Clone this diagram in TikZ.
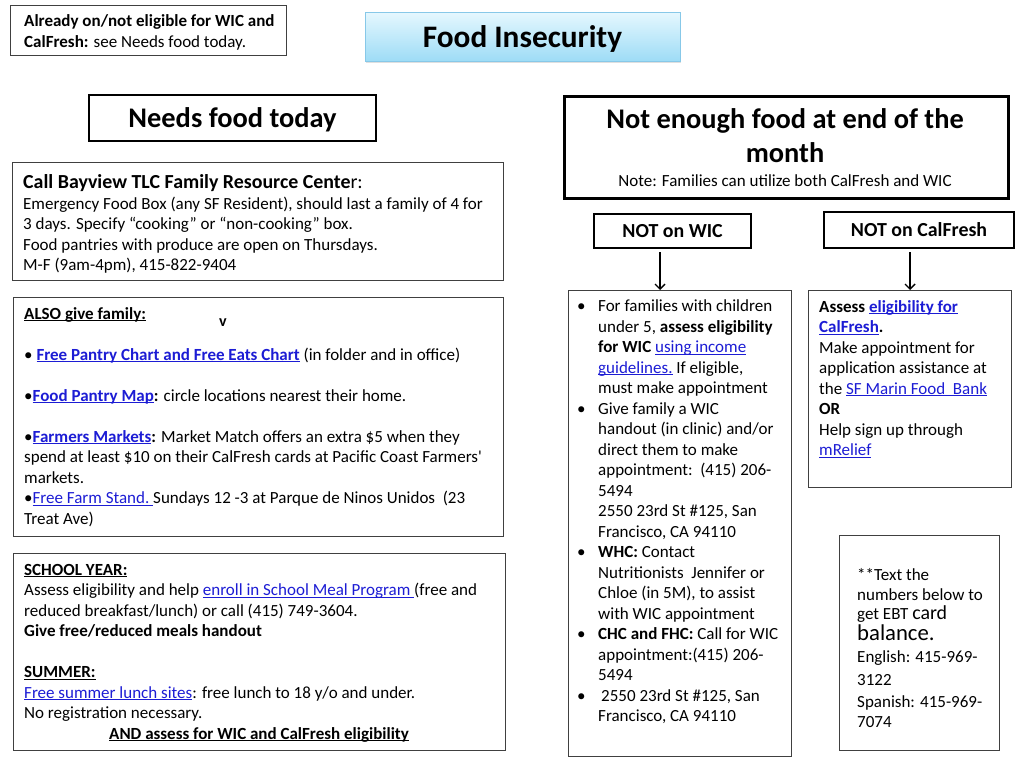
\documentclass[tikz,border=0pt]{standalone}
\usepackage{fontspec}
\setmainfont{Carlito}
\usetikzlibrary{positioning,calc,arrows.meta,shadows}
\definecolor{linkblue}{RGB}{28,28,212}
\definecolor{skytop}{RGB}{228,247,254}
\definecolor{skybot}{RGB}{158,220,246}
\definecolor{skyedge}{RGB}{135,200,232}
\newcommand{\uln}[1]{\leavevmode\setbox0=\hbox{#1}\rlap{\rule[-1.9pt]{\wd0}{0.9pt}}\box0}
\newcommand{\lnk}[1]{{\color{linkblue}\uln{#1}}}
\newcommand{\bul}{\llap{\makebox[21pt][l]{•}}}
\newcommand{\bodyfont}{\fontsize{17}{20.5}\selectfont}
\tikzstyle{thinbox} = [draw=black!75, line width=1.2pt, anchor=north west, inner sep=0pt]
\tikzstyle{thickbox} = [draw=black, line width=2.6pt, inner sep=0pt]
% multi-line text: placed at the baseline of its last line
\tikzstyle{txt} = [anchor=base west, inner sep=0pt, align=left, font=\bodyfont]
\tikzstyle{to} = [-{Straight Barb[length=5pt,width=10pt]}, line width=1.4pt, shorten <=3pt]

\begin{document}
\begin{tikzpicture}[x=1pt, y=-1pt]
	\useasboundingbox (0,0) rectangle (1024,768);
	% top row
	\node (already) [thinbox, minimum width=276, minimum height=50] at (10,5) {};
	\node (alreadytxt) [txt, font=\fontsize{17}{21}\selectfont] at (24,47.5) {\textbf{Already on/not eligible for WIC and}\\\textbf{CalFresh:} see Needs food today.};
	\node (title) [draw=skyedge, line width=1pt, top color=skytop, bottom color=skybot, drop shadow={opacity=0.25, shadow xshift=1pt, shadow yshift=-2pt}, minimum width=315, minimum height=48, text depth=0pt, font=\fontsize{31.3}{33}\selectfont\bfseries] at (522.5,37) {Food Insecurity};
	% needs food today
	\node (needs) [thickbox, minimum width=287, minimum height=46, text depth=0pt, font=\fontsize{28.4}{30}\selectfont\bfseries] at (232.5,118) {Needs food today};
	\node (call) [thinbox, minimum width=491, minimum height=118] at (12,162) {};
	\node (calltxt) [txt] at (23,270.5) {{\fontsize{19.9}{20}\selectfont\textbf{Call Bayview TLC Family Resource Cente}r:}\\[0.5pt]
		Emergency Food Box (any SF Resident), should last a family of 4 for\\
		3 days. Specify “cooking” or “non-cooking” box.\\
		Food pantries with produce are open on Thursdays.\\
		M-F (9am-4pm), 415-822-9404};
	\node (alsobox) [thinbox, minimum width=490, minimum height=239] at (13,297) {};
	\node (alsotxt) [txt] at (24,524) {\textbf{\uln{ALSO give family:}}\\
		\\
		• \textbf{\lnk{Free Pantry Chart and Free Eats Chart}} (in folder and in office)\\
		\\
		•\textbf{\lnk{Food Pantry Map}:} circle locations nearest their home.\\
		\\
		•\textbf{\lnk{Farmers Markets}:} Market Match offers an extra \$5 when they\\
		spend at least \$10 on their CalFresh cards at Pacific Coast Farmers\textquotesingle\\
		markets.\\
		•\lnk{Free Farm Stand.\ }Sundays 12 -3 at Parque de Ninos Unidos\ \ (23\\
		Treat Ave)};
	\node (vmark) [font=\fontsize{16}{16}\selectfont\bfseries] at (223,323) {v};
	\node (schoolbox) [thinbox, minimum width=492, minimum height=197] at (13,553) {};
	\node (schooltxt) [txt] at (24,739) {\textbf{\uln{SCHOOL YEAR:}}\\
		Assess eligibility and help \lnk{enroll in School Meal Program\ }(free and\\
		reduced breakfast/lunch) or call (415) 749-3604.\\
		\textbf{Give free/reduced meals handout}\\
		\\
		\textbf{\uln{SUMMER:}}\\
		\lnk{Free summer lunch sites}: free lunch to 18 y/o and under.\\
		No registration necessary.\\
		\hspace{85pt}\textbf{\uln{AND assess for WIC and CalFresh eligibility}}};
	% end of month
	\node (monthbox) [thickbox, anchor=north west, minimum width=444, minimum height=102] at (563,95) {};
	\node (monthtxt) [font=\fontsize{28.4}{34}\selectfont\bfseries, align=center, anchor=base] at (785,162) {Not enough food at end of the\\month};
	\node (note) [font=\fontsize{17}{18}\selectfont, anchor=base] at (785,186) {Note: Families can utilize both CalFresh and WIC};
	\node (notwic) [thickbox, minimum width=157, minimum height=34, font=\fontsize{19.9}{20}\selectfont\bfseries] at (672.5,231) {NOT on WIC};
	\node (notcal) [thickbox, minimum width=190, minimum height=36, font=\fontsize{19.9}{20}\selectfont\bfseries] at (919,230) {NOT on CalFresh};
	\node (wicbox) [thinbox, minimum width=223, minimum height=466] at (568,290) {};
	\node (wictxt) [txt] at (598,721.5) {\bul For families with children\\
		under 5, \textbf{assess eligibility}\\
		\textbf{for WIC} \lnk{using income}\\
		\lnk{guidelines.} If eligible,\\
		must make appointment\\
		\bul Give family a WIC\\
		handout (in clinic) and/or\\
		direct them to make\\
		appointment:\ \ (415) 206-\\
		5494\\
		2550 23rd St \#125, San\\
		Francisco, CA 94110\\
		\bul\textbf{WHC:} Contact\\
		Nutritionists\ \ Jennifer or\\
		Chloe (in 5M), to assist\\
		with WIC appointment\\
		\bul\textbf{CHC and FHC:} Call for WIC\\
		appointment:(415) 206-\\
		5494\\
		\bul\hspace{3pt}2550 23rd St \#125, San\\
		Francisco, CA 94110};
	\node (calbox) [thinbox, minimum width=203, minimum height=197] at (808,290) {};
	\node (caltxt) [txt] at (819,455.5) {\textbf{Assess \lnk{eligibility for}}\\
		\textbf{\lnk{CalFresh}.}\\
		Make appointment for\\
		application assistance at\\
		the \lnk{SF Marin Food\ \ Bank}\\
		\textbf{OR}\\
		Help sign up through\\
		\lnk{mRelief}};
	\node (ebtbox) [thinbox, minimum width=160, minimum height=215] at (839,535) {};
	\node (ebttxt) [txt, font=\fontsize{17}{19.5}\selectfont] at (857,727) {**Text the\\
		numbers below to\\
		get EBT {\fontsize{19.9}{19.5}\selectfont card}\\[1pt]
		{\fontsize{22.7}{19.5}\selectfont balance.}\\[3pt]
		English: 415-969-\\[3pt]
		3122\\[3pt]
		Spanish: 415-969-\\
		7074};
	% arrows
	\coordinate (wicx) at (660,0);
	\coordinate (calx) at (910,0);
	\draw [to] (notwic.south -| wicx) -- (wicbox.north -| wicx);
	\draw [to] (notcal.south -| calx) -- (calbox.north -| calx);
\end{tikzpicture}
\end{document}
